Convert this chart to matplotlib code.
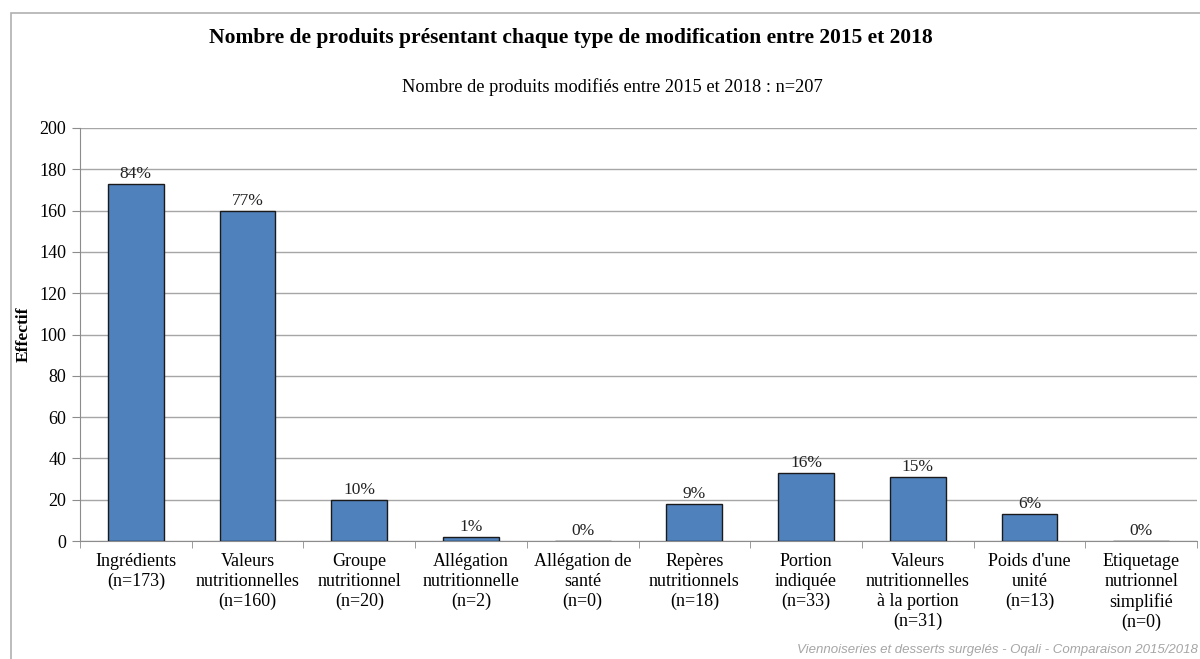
import matplotlib.pyplot as plt
from matplotlib.patches import Rectangle

# data
categories = ["Ingrédients\n(n=173)", "Valeurs\nnutritionnelles\n(n=160)", "Groupe\nnutritionnel\n(n=20)",
              "Allégation\nnutritionnelle\n(n=2)", "Allégation de\nsanté\n(n=0)", "Repères\nnutritionnels\n(n=18)",
              "Portion\nindiquée\n(n=33)", "Valeurs\nnutritionnelles\nà la portion\n(n=31)",
              "Poids d'une\nunité\n(n=13)", "Etiquetage\nnutrionnel\nsimplifié\n(n=0)"]
counts = [173, 160, 20, 2, 0, 18, 33, 31, 13, 0]
percents = ["84%", "77%", "10%", "1%", "0%", "9%", "16%", "15%", "6%", "0%"]
yticks = [0, 20, 40, 60, 80, 100, 120, 140, 160, 180, 200]

plt.rcParams['font.family'] = ['Liberation Serif', 'DejaVu Serif']

fig = plt.figure(figsize=(12, 6.59), dpi=100)
ax = fig.add_axes([80/1200, 1-541/659, 1117/1200, 413/659])

# outer chart border
fig.patches.append(Rectangle((11/1200, -0.05), 1.2, 1-13/659+0.05, transform=fig.transFigure,
                             fill=False, edgecolor="#b0b0b0", linewidth=1.2))

x = range(len(counts))
ax.bar(x, counts, width=0.5, color="#4F81BD", edgecolor="#1a1a1a", linewidth=1, zorder=3)
for i in x:
    ax.annotate(percents[i], (i, counts[i]), xytext=(0, 1.5), textcoords="offset points",
                ha="center", va="bottom", fontsize=12.5, color="#222222")

ax.set_xlim(-0.5, len(counts)-0.5)
ax.set_ylim(0, 200)
ax.set_yticks(yticks)
ax.yaxis.grid(True, color="#a6a6a6", linewidth=1, zorder=0)
ax.set_xticks(x)
ax.set_xticklabels(categories, fontsize=13, linespacing=1.2)
ax.set_xticks([i + 0.5 for i in range(-1, len(counts))], minor=True)
ax.tick_params(axis="x", which="major", length=0, pad=9)
ax.tick_params(axis="x", which="minor", length=5, color="#8c8c8c", direction="out")
ax.tick_params(axis="y", length=6, color="#8c8c8c", labelsize=13, pad=4)
for s in ["top", "right"]:
    ax.spines[s].set_visible(False)
ax.spines["left"].set_color("#8c8c8c")
ax.spines["bottom"].set_color("#8c8c8c")
ax.set_ylabel("Effectif", fontsize=12.5, fontweight="bold", labelpad=0)
ax.yaxis.set_label_coords(-48/1117, 0.5)

fig.text(571/1200, 1-38/659, "Nombre de produits présentant chaque type de modification entre 2015 et 2018",
         ha="center", va="center", fontsize=15.5, fontweight="bold")
fig.text(612/1200, 1-87/659, "Nombre de produits modifiés entre 2015 et 2018 : n=207",
         ha="center", va="center", fontsize=13.2)
fig.text(1198/1200, 1-650/659, "Viennoiseries et desserts surgelés - Oqali - Comparaison 2015/2018",
         ha="right", va="center", fontsize=9.5, style="italic", color="#a6a6a6",
         family=["Liberation Sans", "DejaVu Sans"])

fig.savefig("out.png", dpi=100)
